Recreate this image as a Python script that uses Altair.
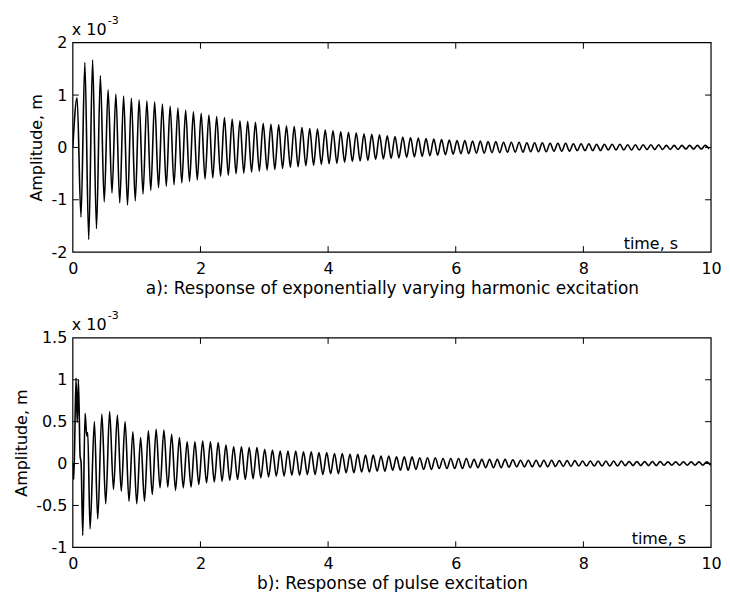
import altair as alt
import pandas as pd

# ---------------- data ----------------
x_ticks = [0, 2, 4, 6, 8, 10]
top_y_ticks = [-2, -1, 0, 1, 2]
bot_y_ticks = [-1, -0.5, 0, 0.5, 1, 1.5]

top_caption = "a): Response of exponentially varying harmonic excitation"
bot_caption = "b): Response of pulse excitation"
y_title = "Amplitude, m"
time_label = ["time, s"]
exp_base = ["x 10"]
exp_sup = ["-3"]

# oscillation period (s) read from the peak spacing
period = 0.1215

# panel a: amplitude (x 10^-3 m) of each successive peak / trough
top_start_t = [0.0]
top_start_v = [0.0]
top_first_peak = 0.067
top_peaks = [0.95, 1.62, 1.67, 1.37, 1.10, 1.02, 0.98, 0.94, 0.91, 0.89,
             0.87, 0.83, 0.79, 0.75, 0.71, 0.68, 0.65, 0.62, 0.59, 0.57,
             0.54, 0.51, 0.50, 0.48, 0.46, 0.44, 0.43, 0.41, 0.40, 0.38,
             0.36, 0.35, 0.33, 0.32, 0.30, 0.29, 0.28, 0.26, 0.25, 0.24,
             0.22, 0.21, 0.20, 0.19, 0.18, 0.17, 0.16, 0.15, 0.14, 0.13,
             0.13, 0.12, 0.12, 0.11, 0.11, 0.10, 0.10, 0.10, 0.09, 0.09,
             0.09, 0.08, 0.08, 0.08, 0.07, 0.07, 0.07, 0.06, 0.06, 0.06,
             0.06, 0.05, 0.05, 0.05, 0.05, 0.05, 0.04, 0.04, 0.04, 0.04,
             0.04, 0.04]
top_troughs = [-1.33, -1.76, -1.55, -1.04, -0.87, -1.06, -1.10, -1.02, -0.89, -0.82,
               -0.77, -0.74, -0.71, -0.68, -0.65, -0.62, -0.60, -0.58, -0.55, -0.53,
               -0.50, -0.49, -0.47, -0.45, -0.43, -0.42, -0.40, -0.38, -0.37, -0.35,
               -0.34, -0.32, -0.31, -0.30, -0.28, -0.27, -0.26, -0.25, -0.23, -0.22,
               -0.21, -0.20, -0.19, -0.18, -0.17, -0.16, -0.15, -0.14, -0.13, -0.12,
               -0.12, -0.11, -0.11, -0.10, -0.10, -0.09, -0.09, -0.09, -0.08, -0.08,
               -0.08, -0.07, -0.07, -0.07, -0.06, -0.06, -0.06, -0.06, -0.05, -0.05,
               -0.05, -0.05, -0.05, -0.04, -0.04, -0.04, -0.04, -0.04, -0.03, -0.03,
               -0.03, -0.03]

# panel b: irregular start of the pulse response, then regular peaks / troughs
bot_start_t = [0.0, 0.016, 0.050, 0.069, 0.088, 0.114, 0.130, 0.156, 0.192,
               0.218, 0.234, 0.270, 0.338, 0.390]
bot_start_v = [0.0, -0.19, 1.02, 0.49, 1.00, 0.09, 0.01, -0.86, 0.60,
               0.33, 0.37, -0.78, 0.50, -0.66]
bot_first_peak = 0.455
bot_peaks = [0.59, 0.62, 0.58, 0.50, 0.38, 0.31, 0.39, 0.41, 0.40, 0.35,
             0.31, 0.26, 0.26, 0.27, 0.26, 0.25, 0.22, 0.20, 0.20, 0.19,
             0.19, 0.17, 0.16, 0.15, 0.15, 0.15, 0.14, 0.14, 0.13, 0.13,
             0.12, 0.12, 0.11, 0.11, 0.10, 0.10, 0.09, 0.09, 0.08, 0.08,
             0.08, 0.07, 0.07, 0.07, 0.06, 0.06, 0.06, 0.06, 0.05, 0.05,
             0.05, 0.05, 0.05, 0.045, 0.04, 0.04, 0.04, 0.04, 0.04, 0.035,
             0.035, 0.035, 0.03, 0.03, 0.03, 0.03, 0.03, 0.03, 0.025, 0.025,
             0.025, 0.025, 0.025, 0.02, 0.02, 0.02, 0.02, 0.02, 0.02]
bot_troughs = [-0.48, -0.31, -0.33, -0.45, -0.48, -0.45, -0.37, -0.29, -0.28, -0.32,
               -0.29, -0.28, -0.25, -0.23, -0.22, -0.21, -0.20, -0.19, -0.19, -0.18,
               -0.17, -0.16, -0.15, -0.15, -0.14, -0.14, -0.13, -0.13, -0.13, -0.12,
               -0.12, -0.11, -0.11, -0.10, -0.10, -0.09, -0.09, -0.08, -0.08, -0.08,
               -0.07, -0.07, -0.07, -0.06, -0.06, -0.06, -0.06, -0.05, -0.05, -0.05,
               -0.05, -0.05, -0.045, -0.04, -0.04, -0.04, -0.04, -0.04, -0.035, -0.035,
               -0.035, -0.03, -0.03, -0.03, -0.03, -0.03, -0.03, -0.025, -0.025, -0.025,
               -0.025, -0.025, -0.02, -0.02, -0.02, -0.02, -0.02, -0.02, -0.02]

# ---------------- build tables ----------------
def series(start_t, start_v, t0, peaks, troughs):
    t = list(start_t)
    v = list(start_v)
    for k, (p, q) in enumerate(zip(peaks, troughs)):
        t.append(t0 + k * period)
        v.append(p)
        t.append(t0 + (k + 0.5) * period)
        v.append(q)
    return pd.DataFrame({"t": t, "v": v})


top_df = series(top_start_t, top_start_v, top_first_peak, top_peaks, top_troughs)
bot_df = series(bot_start_t, bot_start_v, bot_first_peak, bot_peaks, bot_troughs)

W, H = 640, 210
FONT = "DejaVu Sans"


def panel(df, y_dom, y_ticks, caption, time_dx):
    xs = alt.Scale(domain=[0, 10], nice=False, zero=False)
    ys = alt.Scale(domain=y_dom, nice=False, zero=False)
    xenc = alt.X("t:Q", scale=xs, axis=alt.Axis(
        values=x_ticks, title=caption, labelFlush=False, labelOverlap=False,
        labelPadding=8, titlePadding=4, titleFontSize=17))
    yenc = alt.Y("v:Q", scale=ys, axis=alt.Axis(
        values=y_ticks, title=y_title, labelExpr="'' + datum.value",
        labelFlush=False, labelOverlap=False, labelPadding=6, titlePadding=6))

    line = alt.Chart(df).mark_line(
        color="black", strokeWidth=1.6, interpolate="monotone", clip=True
    ).encode(x=xenc, y=yenc)

    xt = pd.DataFrame({"t": x_ticks[1:-1]})
    yt = pd.DataFrame({"v": y_ticks[1:-1]})
    bt = alt.Chart(xt).mark_rule(color="black").encode(
        x=xenc, y=alt.value(H), y2=alt.value(H - 6))
    tt = alt.Chart(xt).mark_rule(color="black").encode(
        x=xenc, y=alt.value(0), y2=alt.value(6))
    lt = alt.Chart(yt).mark_rule(color="black").encode(
        y=yenc, x=alt.value(0), x2=alt.value(6))
    rt = alt.Chart(yt).mark_rule(color="black").encode(
        y=yenc, x=alt.value(W), x2=alt.value(W - 6))

    frame = alt.Chart(pd.DataFrame({"s": ["frame"]})).mark_rect(
        fill=None, stroke="black", strokeWidth=1.2
    ).encode(x=alt.value(0), x2=alt.value(W), y=alt.value(0), y2=alt.value(H))

    base = alt.Chart(pd.DataFrame({"s": exp_base})).mark_text(
        align="left", baseline="alphabetic", font=FONT, fontSize=16, color="black"
    ).encode(x=alt.value(-1), y=alt.value(-8), text="s:N")
    sup = alt.Chart(pd.DataFrame({"s": exp_sup})).mark_text(
        align="left", baseline="alphabetic", font=FONT, fontSize=11, color="black"
    ).encode(x=alt.value(35), y=alt.value(-19), text="s:N")
    tl = alt.Chart(pd.DataFrame({"s": time_label})).mark_text(
        align="right", baseline="alphabetic", font=FONT, fontSize=16, color="black"
    ).encode(x=alt.value(W - time_dx), y=alt.value(H - 3), text="s:N")

    return alt.layer(line, bt, tt, lt, rt, frame, base, sup, tl).properties(width=W, height=H)


top = panel(top_df, [-2, 2], top_y_ticks, top_caption, 33)
bot = panel(bot_df, [-1, 1.5], bot_y_ticks, bot_caption, 25)

chart = alt.vconcat(top, bot, spacing=14).properties(
    background="white",
    padding={"left": 5, "top": 6, "right": 0, "bottom": 0},
).configure_view(
    stroke=None
).configure_axis(
    domain=False, ticks=False, tickSize=0, grid=False,
    labelFont=FONT, labelFontSize=16, labelColor="black",
    titleFont=FONT, titleFontSize=16, titleFontWeight="normal", titleColor="black",
)

chart.save("out.html", embed_options={"renderer": "svg", "actions": False})
